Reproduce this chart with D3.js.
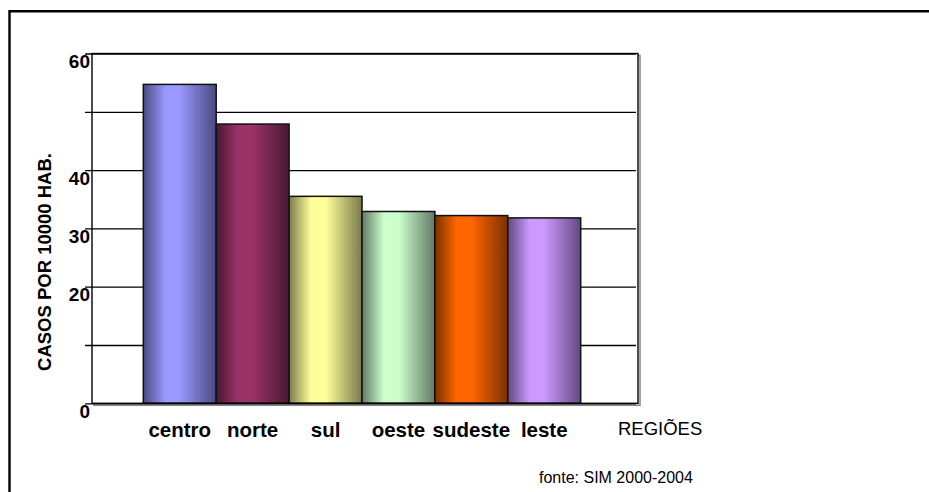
<!DOCTYPE html>
<html>
<head>
<meta charset="utf-8">
<script src="https://cdn.jsdelivr.net/npm/d3@7"></script>
<style>
  html, body { margin: 0; padding: 0; background: #fff; overflow: hidden; }
  svg { display: block; font-family: "Liberation Sans", Arial, sans-serif; }
</style>
</head>
<body>
<svg id="chart" width="929" height="492"></svg>
<script>
// ---- data ----
const categories = ["centro", "norte", "sul", "oeste", "sudeste", "leste"];
const values = [54.7, 47.9, 35.5, 32.9, 32.2, 31.8];
const barColors = ["#9999FF", "#993366", "#FFFF99", "#CCFFCC", "#FF6600", "#CC99FF"];
const yTicks = [0, 10, 20, 30, 40, 50, 60];
const yTickLabels = ["0", "", "20", "30", "40", "", "60"];
const yTitle = "CASOS POR 10000 HAB.";
const xTitle = "REGIÕES";
const sourceNote = "fonte: SIM 2000-2004";

// ---- layout ----
const svg = d3.select("#chart");
const plot = { left: 92, right: 638, top: 53.5, bottom: 403.3 };

const y = d3.scaleLinear().domain([0, 60]).range([plot.bottom, plot.top]);
const x = d3.scaleBand().domain(categories).range([143.3, 580.7]).padding(0);

// outer frame (right and bottom edges lie outside the window)
svg.append("path")
  .attr("d", "M929,11.2 H9.5 V492")
  .attr("fill", "none").attr("stroke", "#000").attr("stroke-width", 2.4);

// gradients
const defs = svg.append("defs");
categories.forEach((c, i) => {
  const base = d3.color(barColors[i]);
  const dark = d3.rgb(base.r * 0.48, base.g * 0.48, base.b * 0.5);
  const g = defs.append("linearGradient")
    .attr("id", "grad" + i)
    .attr("x1", "0%").attr("x2", "100%").attr("y1", "0%").attr("y2", "0%");
  g.append("stop").attr("offset", "0%").attr("stop-color", dark);
  g.append("stop").attr("offset", "30%").attr("stop-color", base);
  g.append("stop").attr("offset", "50%").attr("stop-color", base);
  g.append("stop").attr("offset", "100%").attr("stop-color", dark);
});

// plot shadow
svg.append("rect")
  .attr("x", plot.left + 2).attr("y", plot.top + 2)
  .attr("width", plot.right - plot.left).attr("height", plot.bottom - plot.top)
  .attr("fill", "none").attr("stroke", "#888").attr("stroke-width", 1.5);
svg.append("rect")
  .attr("x", plot.left).attr("y", plot.top)
  .attr("width", plot.right - plot.left).attr("height", plot.bottom - plot.top)
  .attr("fill", "#fff").attr("stroke", "none");

// gridlines + tick labels via axis
const axisG = svg.append("g")
  .attr("transform", `translate(${plot.right - 2},0)`)
  .call(d3.axisLeft(y)
    .tickValues(yTicks)
    .tickSize(plot.right - 2 - 85)
    .tickFormat((d, i) => yTickLabels[i]));
axisG.select(".domain").remove();
axisG.selectAll(".tick line").attr("stroke", "#000").attr("stroke-width", 1.3);
axisG.selectAll(".tick text")
  .attr("x", -(plot.right - 2 - 90))
  .attr("dy", null)
  .attr("y", 14)
  .attr("text-anchor", "end")
  .attr("fill", "#000")
  .style("font-size", "19px")
  .style("font-weight", "bold")
  .style("font-family", "'Liberation Sans', Arial, sans-serif");

// bars
svg.append("g").selectAll("rect")
  .data(values)
  .join("rect")
  .attr("x", (d, i) => x(categories[i]))
  .attr("y", d => y(d))
  .attr("width", x.bandwidth())
  .attr("height", d => y(0) - y(d))
  .attr("fill", (d, i) => `url(#grad${i})`)
  .attr("stroke", "#111")
  .attr("stroke-width", 1.5);

// plot frame
svg.append("rect")
  .attr("x", plot.left).attr("y", plot.top)
  .attr("width", plot.right - plot.left).attr("height", plot.bottom - plot.top)
  .attr("fill", "none").attr("stroke", "#000").attr("stroke-width", 1.4);

// category labels
svg.append("g").selectAll("text")
  .data(categories)
  .join("text")
  .attr("x", d => x(d) + x.bandwidth() / 2)
  .attr("y", 437)
  .attr("text-anchor", "middle")
  .style("font-size", "20.5px")
  .style("font-weight", "bold")
  .text(d => d);

// y title
svg.append("text")
  .attr("transform", "translate(51,262) rotate(-90)")
  .attr("text-anchor", "middle")
  .style("font-size", "18.5px")
  .style("font-weight", "bold")
  .text(yTitle);

// x title
svg.append("text")
  .attr("x", 618).attr("y", 435)
  .style("font-size", "18.5px")
  .text(xTitle);

// source note
svg.append("text")
  .attr("x", 539).attr("y", 483)
  .style("font-size", "16px")
  .text(sourceNote);
</script>
</body>
</html>
